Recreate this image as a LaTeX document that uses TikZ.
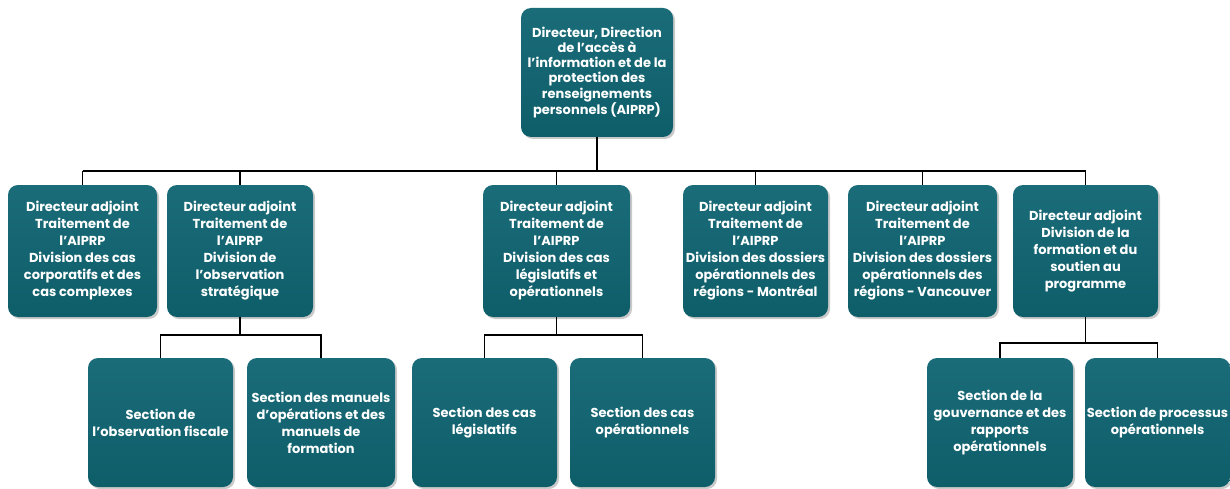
\documentclass[tikz,border=0pt]{standalone}
\usepackage{fontspec}
\setmainfont{Poppins}
\usetikzlibrary{shadows}
\definecolor{teal1}{RGB}{14,94,106}
\definecolor{teal2}{RGB}{26,108,120}
\tikzset{
  orgbox/.style={draw=none, top color=teal2, bottom color=teal1, rounded corners=10pt,
    text=white, font=\bfseries\fontsize{13}{17}\selectfont, align=center,
    inner sep=0pt, drop shadow={shadow xshift=2pt, shadow yshift=-2pt, opacity=0.35, fill=black!60}},
  link/.style={draw=black, line width=1.8pt}
}
\begin{document}
\begin{tikzpicture}[x=1pt,y=-1pt]
\useasboundingbox (0,0) rectangle (1230,489);
% top
\node[orgbox, minimum width=152pt, minimum height=129pt, font=\bfseries\fontsize{13}{15.2}\selectfont] (top) at (597,72.5)
 {Directeur, Direction\\de l’accès à\\l’information et de la\\protection des\\renseignements\\personnels (AIPRP)};
% row 2
\node[orgbox, minimum width=149pt, minimum height=132pt] (b1) at (82.5,251)
 {Directeur adjoint\\Traitement de\\l’AIPRP\\Division des cas\\corporatifs et des\\cas complexes};
\node[orgbox, minimum width=146pt, minimum height=132pt] (b2) at (240,251)
 {Directeur adjoint\\Traitement de\\l’AIPRP\\Division de\\l’observation\\stratégique};
\node[orgbox, minimum width=147pt, minimum height=132pt] (b3) at (556.5,251)
 {Directeur adjoint\\Traitement de\\l’AIPRP\\Division des cas\\législatifs et\\opérationnels};
\node[orgbox, minimum width=145pt, minimum height=132pt] (b4) at (755.5,251)
 {Directeur adjoint\\Traitement de\\l’AIPRP\\Division des dossiers\\opérationnels des\\régions - Montréal};
\node[orgbox, minimum width=149pt, minimum height=132pt] (b5) at (922.5,251)
 {Directeur adjoint\\Traitement de\\l’AIPRP\\Division des dossiers\\opérationnels des\\régions - Vancouver};
\node[orgbox, minimum width=145pt, minimum height=132pt] (b6) at (1085.5,251)
 {Directeur adjoint\\Division de la\\formation et du\\soutien au\\programme};
% row 3
\node[orgbox, minimum width=145pt, minimum height=129pt] (c1) at (160.5,422.5)
 {Section de\\l’observation fiscale};
\node[orgbox, minimum width=148pt, minimum height=129pt] (c2) at (321,422.5)
 {Section des manuels\\d’opérations et des\\manuels de\\formation};
\node[orgbox, minimum width=145pt, minimum height=129pt] (c3) at (484.5,422.5)
 {Section des cas\\législatifs};
\node[orgbox, minimum width=145pt, minimum height=129pt] (c4) at (642.5,422.5)
 {Section des cas\\opérationnels};
\node[orgbox, minimum width=146pt, minimum height=129pt] (c5) at (1000,422.5)
 {Section de la\\gouvernance et des\\rapports\\opérationnels};
\node[orgbox, minimum width=145pt, minimum height=129pt] (c6) at (1157.5,422.5)
 {Section de processus\\opérationnels};
% buses
\coordinate (bus) at (0,171);
\coordinate (busL) at (0,335);
\coordinate (busR) at (0,343);
\draw[link] (top.south) -- (top.south |- bus);
\draw[link] (b1.north |- bus) -- (b6.north |- bus);
\foreach \n in {b1,b2,b3,b4,b5,b6} \draw[link] (\n.north |- bus) -- (\n.north);
\draw[link] (b2.south) -- (b2.south |- busL);
\draw[link] (c1.north) |- (b2.south |- busL) -| (c2.north);
\draw[link] (b3.south) -- (b3.south |- busL);
\draw[link] (c3.north) |- (b3.south |- busL) -| (c4.north);
\draw[link] (b6.south) -- (b6.south |- busR);
\draw[link] (c5.north) |- (b6.south |- busR) -| (c6.north);
\end{tikzpicture}
\end{document}
